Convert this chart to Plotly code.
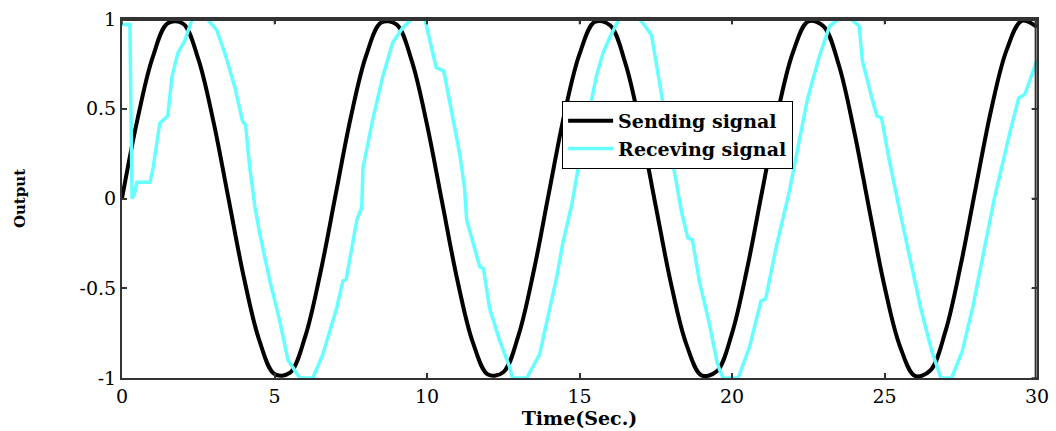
import plotly.graph_objects as go

# Sending signal (sampled every 0.5 s)
send_t = [i * 0.5 for i in range(61)]
send_v = [0.0, 0.435, 0.783, 0.976, 0.974, 0.778, 0.427, -0.008, -0.443, -0.789,
          -0.978, -0.972, -0.773, -0.418, 0.017, 0.451, 0.794, 0.980, 0.970, 0.767,
          0.412, -0.025, -0.458, -0.800, -0.981, -0.968, -0.762, -0.404, 0.034, 0.466,
          0.804, 0.984, 0.965, 0.756, 0.395, -0.042, -0.474, -0.810, -0.985, -0.963,
          -0.751, -0.387, 0.051, 0.481, 0.815, 0.987, 0.960, 0.745, 0.379, -0.060,
          -0.489, -0.820, -0.988, -0.958, -0.739, -0.370, 0.068, 0.496, 0.825, 0.990,
          0.956]

# Receiving signal
recv_t = [0, 0.26, 0.33, 0.4, 0.49, 0.92, 1.02, 1.24, 1.5, 1.64, 1.83, 2.06, 2.3, 2.8,
          3.1, 3.37, 3.7, 3.95, 4.05, 4.19, 4.36, 4.52, 4.85, 5.17, 5.44, 5.83, 6.26,
          6.58, 7.04, 7.24, 7.35, 7.7, 7.86, 7.9, 8.22, 8.55, 8.88, 9.2, 9.5, 9.93,
          10.3, 10.55, 11.07, 11.23, 11.3, 11.73, 11.85, 12.05, 12.38, 12.71, 12.8, 13.27,
          13.69, 13.92, 14.25, 14.45, 14.75, 15.0, 15.4, 15.55, 15.77, 16.0, 16.3, 16.97,
          17.2, 17.36, 17.5, 17.7, 18.1, 18.34, 18.55, 18.7, 18.93, 19.26, 19.52, 19.7,
          20.2, 20.57, 20.95, 21.1, 21.45, 21.88, 22.47, 22.86, 23.2, 23.5, 23.9,
          24.17, 24.27, 24.6, 24.75, 24.9, 25.16, 25.5, 25.85, 26.2, 26.55, 26.85,
          27.2, 27.55, 27.9, 28.25, 28.6, 29.1, 29.4, 29.6, 30.0]
recv_v = [0.97, 0.97, 0.0, 0.02, 0.09, 0.09, 0.17, 0.42, 0.46, 0.68, 0.81, 0.88, 1.0, 1.0,
          0.94, 0.81, 0.62, 0.43, 0.41, 0.17, -0.05, -0.2, -0.46, -0.68, -0.9, -1.0, -1.0,
          -0.87, -0.61, -0.46, -0.45, -0.12, -0.05, 0.17, 0.44, 0.68, 0.87, 0.95, 1.0, 1.0,
          0.73, 0.71, 0.25, 0.06, -0.12, -0.38, -0.39, -0.61, -0.79, -0.94, -1.0, -1.0,
          -0.87, -0.7, -0.44, -0.25, -0.03, 0.21, 0.56, 0.68, 0.81, 0.9, 1.0, 1.0,
          0.95, 0.91, 0.77, 0.56, 0.16, -0.07, -0.22, -0.23, -0.46, -0.7, -0.92, -1.0,
          -1.0, -0.83, -0.57, -0.56, -0.27, 0.04, 0.55, 0.79, 0.96, 1.0, 1.0,
          0.96, 0.77, 0.55, 0.46, 0.45, 0.21, -0.07, -0.35, -0.62, -0.85, -1.0,
          -1.0, -0.85, -0.6, -0.3, 0.0, 0.36, 0.56, 0.58, 0.77]

x_ticks = [0, 5, 10, 15, 20, 25, 30]
y_ticks = [-1, -0.5, 0, 0.5, 1]
y_tick_text = ["-1", "-0.5", "0", "0.5", "1"]

FONT = "DejaVu Serif"
AX = "#333333"

fig = go.Figure()
fig.add_trace(go.Scatter(x=send_t, y=send_v, mode="lines", name="<b>Sending signal</b>",
                         line=dict(color="black", width=4, shape="spline", smoothing=1.0)))
fig.add_trace(go.Scatter(x=recv_t, y=recv_v, mode="lines", name="<b>Receving signal</b>",
                         line=dict(color="#66FFFF", width=3.5)))

axis_common = dict(showline=True, linecolor=AX, linewidth=2, mirror="allticks",
                   ticks="inside", ticklen=5, tickcolor=AX, tickwidth=1.5,
                   showgrid=False, zeroline=False, automargin=False,
                   tickfont=dict(family=FONT, size=19, color="black"))

# frame lines along the top and right edges, drawn just inside the plot area
frame = [
    dict(type="line", xref="paper", yref="paper", x0=0, x1=1, y0=0.997, y1=0.997,
         line=dict(color=AX, width=2), layer="above"),
    dict(type="line", xref="paper", yref="paper", x0=0.9985, x1=0.9985, y0=0, y1=1,
         line=dict(color=AX, width=2), layer="above"),
]
for xv in x_ticks:
    frame.append(dict(type="line", xref="x", yref="paper", x0=xv, x1=xv, y0=1, y1=0.985,
                      line=dict(color=AX, width=1.5), layer="above"))
for yv in y_ticks:
    frame.append(dict(type="line", xref="paper", yref="y", x0=1, x1=0.994, y0=yv, y1=yv,
                      line=dict(color=AX, width=1.5), layer="above"))

fig.update_layout(
    width=1056, height=431,
    margin=dict(l=122, r=19, t=19, b=53),
    paper_bgcolor="white", plot_bgcolor="white",
    showlegend=True,
    shapes=frame,
    xaxis=dict(range=[0, 30], tickvals=x_ticks,
               title=dict(text="<b>Time(Sec.)</b>", font=dict(family=FONT, size=19, color="black"),
                          standoff=0),
               **axis_common),
    yaxis=dict(range=[-1, 1], tickvals=y_ticks, ticktext=y_tick_text,
               title=dict(text="<b>Output</b>", font=dict(family=FONT, size=15, color="black"),
                          standoff=50),
               **axis_common),
    legend=dict(x=0.481, y=0.772, xanchor="left", yanchor="top",
                bgcolor="white", bordercolor="black", borderwidth=1,
                font=dict(family=FONT, size=19, color="black"),
                tracegroupgap=0, itemwidth=45),
)

fig.write_html("out.html", config={"displayModeBar": False},
               post_script="document.body.style.margin='0';document.body.style.overflow='hidden';")
